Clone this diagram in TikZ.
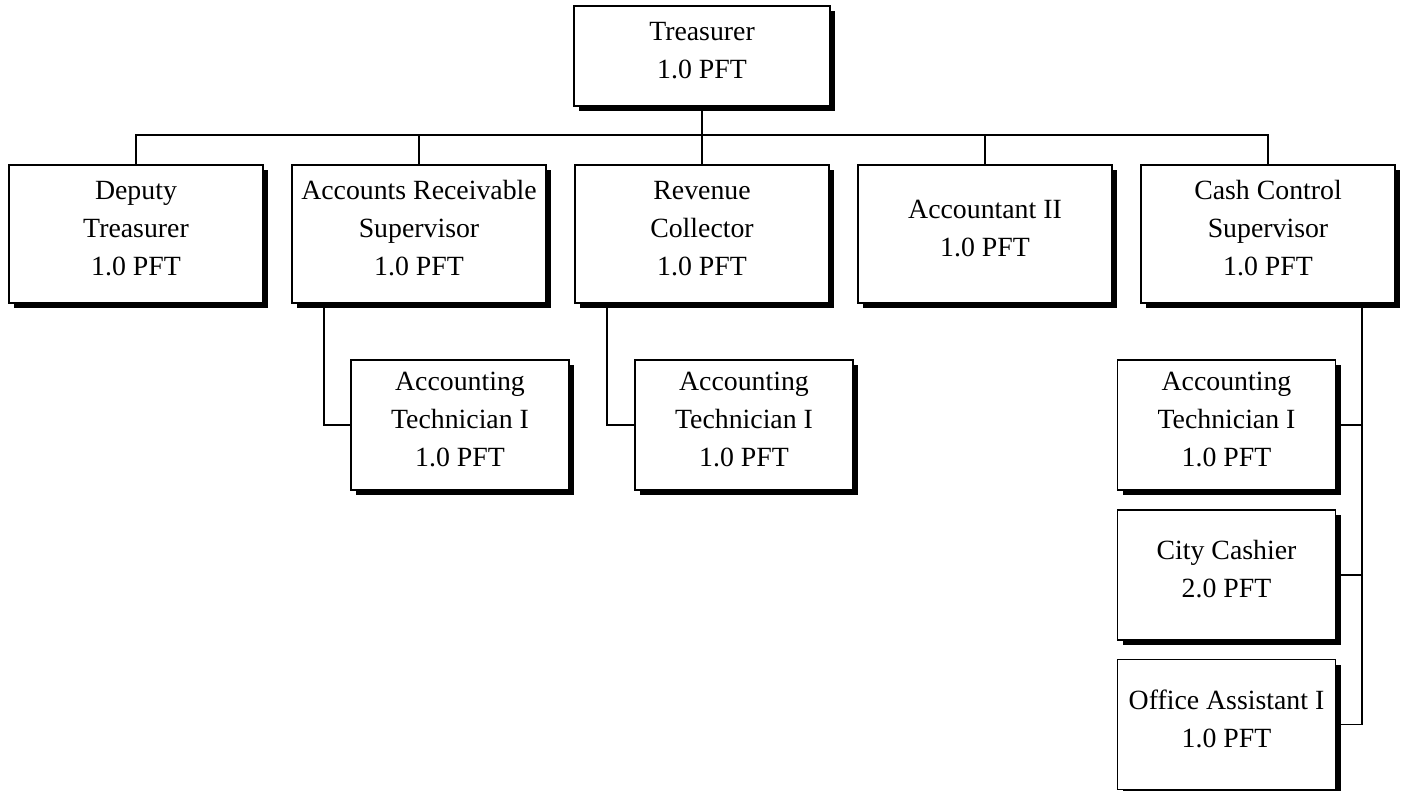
\documentclass[tikz,border=0pt]{standalone}
\usepackage{fontspec}
\setmainfont{Liberation Serif}
\usetikzlibrary{shadows}
\begin{document}
\begin{tikzpicture}[x=0.5pt,y=-0.5pt]
  \tikzstyle{post}=[draw=black, line width=0.7pt, fill=white, align=center, inner sep=0pt,
    font=\fontsize{13.9}{19}\selectfont, text depth=6pt,
    drop shadow={shadow xshift=2.5pt,shadow yshift=-2.5pt,fill=black,opacity=1}]
  \tikzstyle{chief}=[post, minimum width=128pt, minimum height=50pt]
  \tikzstyle{head}=[post, minimum width=127pt, minimum height=69pt]
  \tikzstyle{staff}=[post, minimum width=109pt, minimum height=65pt]
  \tikzstyle{link}=[color=black, line width=0.6pt]
  \useasboundingbox (0,0) rectangle (1407,791);
  \node[chief] (T)  at (702,56)  {Treasurer\\1.0 PFT};
  \node[head]  (D)  at (136,234) {Deputy\\Treasurer\\1.0 PFT};
  \node[head]  (AR) at (419,234) {Accounts Receivable\\Supervisor\\1.0 PFT};
  \node[head]  (RC) at (702,234) {Revenue\\Collector\\1.0 PFT};
  \node[head]  (A2) at (985,234) {Accountant II\\1.0 PFT};
  \node[head]  (CC) at (1268,234) {Cash Control\\Supervisor\\1.0 PFT};
  \node[staff] (ATa) at (460,425) {Accounting\\Technician I\\1.0 PFT};
  \node[staff] (ATb) at (744,425) {Accounting\\Technician I\\1.0 PFT};
  \node[staff] (ATc) at (1226.5,425) {Accounting\\Technician I\\1.0 PFT};
  \node[staff] (CCash) at (1226.5,575) {City Cashier\\2.0 PFT};
  \node[staff] (OA) at (1226.5,724.5) {Office Assistant I\\1.0 PFT};
  \coordinate (bus) at (702,135);
  \coordinate (ARdrop) at (324,303);
  \coordinate (RCdrop) at (607,303);
  \coordinate (CCdrop) at (1362,303);
  \draw [link] (T.south) -- (bus);
  \foreach \n in {D,AR,RC,A2,CC}
    \draw [link] (bus) -| (\n.north);
  \draw [link] (ARdrop) |- (ATa.west);
  \draw [link] (RCdrop) |- (ATb.west);
  \draw [link] (CCdrop) |- (OA.east);
  \draw [link] (ATc.east) -- (ATc.east -| CCdrop);
  \draw [link] (CCash.east) -- (CCash.east -| CCdrop);
\end{tikzpicture}
\end{document}
